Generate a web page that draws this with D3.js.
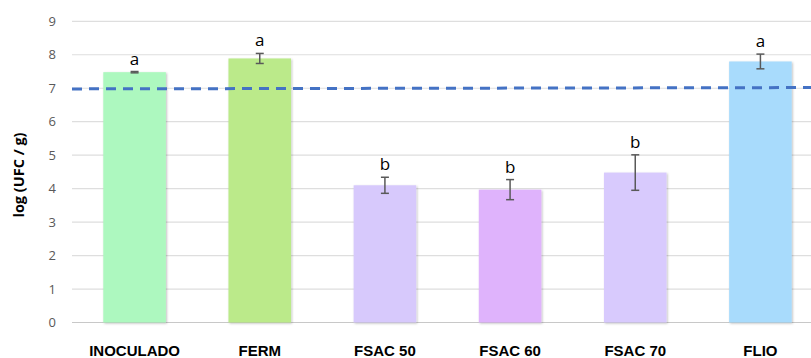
<!DOCTYPE html>
<html>
<head lang="es">
    <meta charset="UTF-8">
    <title></title>
    <script src="https://cdn.jsdelivr.net/npm/d3@7/dist/d3.min.js"></script>
    <style>
        body{margin:0;background:#fff;}
    </style>
</head>
<body>
<script>
    var categories=["INOCULADO","FERM","FSAC 50","FSAC 60","FSAC 70","FLIO"];
    var values=[7.48,7.89,4.10,3.97,4.48,7.80];
    var errors=[0.02,0.15,0.24,0.30,0.53,0.22];
    var letters=["a","a","b","b","b","a"];
    var colors=["#adf8bf","#bbea8a","#d7c9fc","#dfb3fc","#d8cafd","#a8dbfc"];
    var yTicks=[0,1,2,3,4,5,6,7,8,9];
    var refLine=[6.98,7.02];   // linea discontinua (inicio, fin)

    var W=811,H=358;
    var svg=d3.select("body").append("svg")
            .attr("width",W).attr("height",H);

    var defs=svg.append("defs");
    var f=defs.append("filter").attr("id","sh")
            .attr("x","-20%").attr("y","-5%").attr("width","140%").attr("height","110%");
    f.append("feDropShadow").attr("dx",1).attr("dy",1).attr("stdDeviation",1.2)
            .attr("flood-color","#000").attr("flood-opacity",0.25);

    var x=d3.scaleBand().domain(categories).range([72,823]).paddingInner(0.5).paddingOuter(0.25);
    var y=d3.scaleLinear().domain([0,9]).range([322.5,21.3]);

    // rejilla
    svg.append("g").selectAll("line").data(yTicks).enter().append("line")
            .attr("x1",72).attr("x2",W)
            .attr("y1",function(d){return y(d);}).attr("y2",function(d){return y(d);})
            .style("stroke",function(d){return d===0?"#c8c8c8":"#dedede";})
            .style("stroke-width",1.2);

    // etiquetas eje y
    svg.append("g").selectAll("text").data(yTicks).enter().append("text")
            .attr("x",56).attr("y",function(d){return y(d);})
            .attr("dy","0.35em").attr("text-anchor","end")
            .style("font-family","'Open Sans', 'Noto Sans', sans-serif")
            .style("font-size","13px").style("fill","#595959")
            .text(function(d){return d;});

    svg.append("text")
            .attr("transform","translate(24,175) rotate(-90)")
            .attr("text-anchor","middle")
            .style("font-family","'Open Sans', 'Noto Sans', sans-serif")
            .style("font-weight","bold").style("font-size","14.5px").style("fill","#000")
            .text("log (UFC / g)");

    // barras
    svg.append("g").selectAll("rect").data(categories).enter().append("rect")
            .attr("x",function(d){return x(d);})
            .attr("width",x.bandwidth())
            .attr("y",function(d,i){return y(values[i]);})
            .attr("height",function(d,i){return y(0)-y(values[i]);})
            .style("fill",function(d,i){return colors[i];})
            .attr("filter","url(#sh)");

    // linea discontinua
    svg.append("line")
            .attr("x1",72).attr("x2",W)
            .attr("y1",y(refLine[0])).attr("y2",y(refLine[1]))
            .style("stroke","#4472c4").style("stroke-width",3)
            .style("stroke-dasharray","10,7");

    // barras de error
    var eg=svg.append("g").selectAll("g").data(categories).enter().append("g")
            .style("stroke","#595959").style("stroke-width",1.5);
    eg.append("line")
            .attr("x1",function(d){return x(d)+x.bandwidth()/2;})
            .attr("x2",function(d){return x(d)+x.bandwidth()/2;})
            .attr("y1",function(d,i){return y(values[i]+errors[i]);})
            .attr("y2",function(d,i){return y(values[i]-errors[i]);});
    [1,-1].forEach(function(s){
        eg.append("line")
            .attr("x1",function(d){return x(d)+x.bandwidth()/2-4;})
            .attr("x2",function(d){return x(d)+x.bandwidth()/2+4;})
            .attr("y1",function(d,i){return y(values[i]+s*errors[i]);})
            .attr("y2",function(d,i){return y(values[i]+s*errors[i]);});
    });

    // letras
    svg.append("g").selectAll("text").data(categories).enter().append("text")
            .attr("x",function(d){return x(d)+x.bandwidth()/2;})
            .attr("y",function(d,i){return y(values[i]+errors[i])-7;})
            .attr("text-anchor","middle")
            .style("font-family","'Open Sans', 'Noto Sans', sans-serif")
            .style("font-size","17px").style("fill","#000")
            .text(function(d,i){return letters[i];});

    // etiquetas eje x
    svg.append("g").selectAll("text").data(categories).enter().append("text")
            .attr("x",function(d){return x(d)+x.bandwidth()/2;})
            .attr("y",356)
            .attr("text-anchor","middle")
            .style("font-family","'Liberation Sans', Arial, sans-serif")
            .style("font-weight","bold").style("font-size","15px").style("fill","#000")
            .text(function(d){return d;});
</script>
</body>
</html>
